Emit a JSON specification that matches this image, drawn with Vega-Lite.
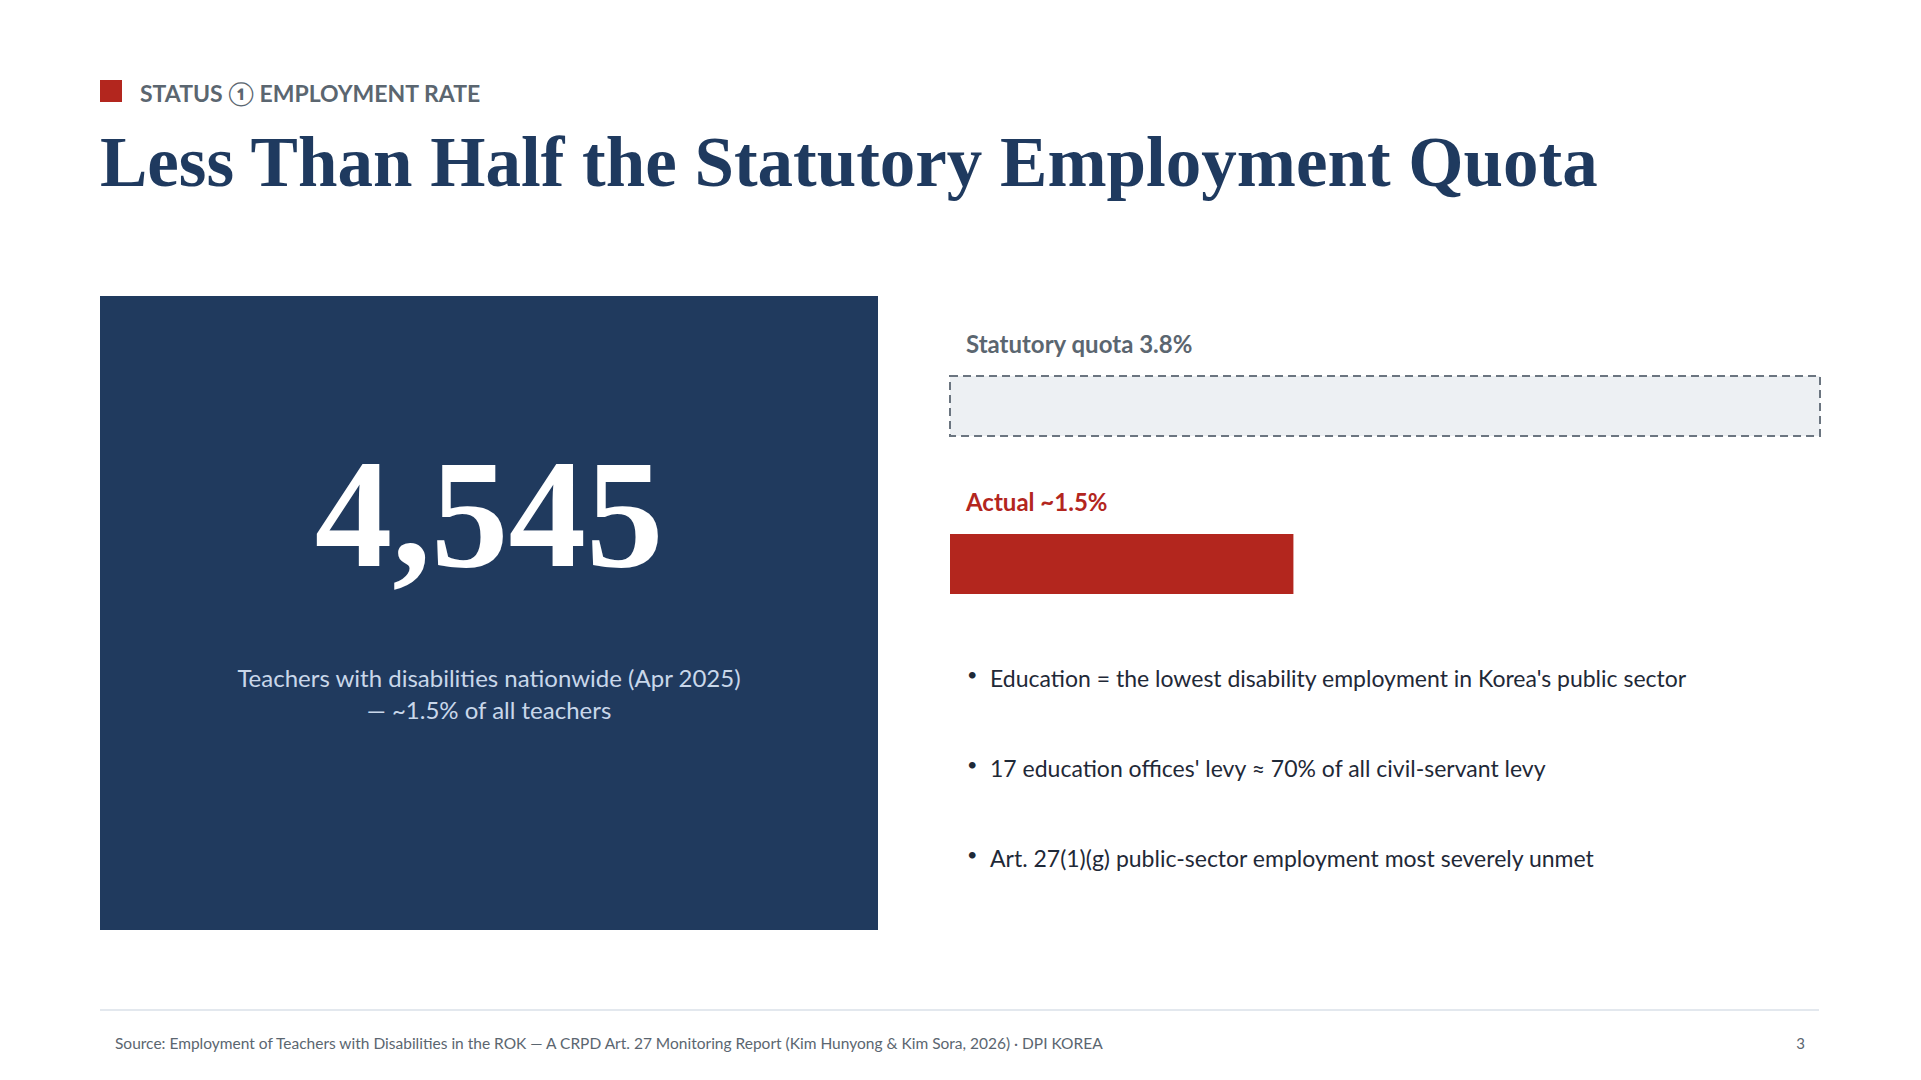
{
  "$schema": "https://vega.github.io/schema/vega-lite/v6.json",
  "background": "#ffffff",
  "padding": {"left": 100, "top": 80, "right": 0, "bottom": 0},
  "config": {"view": {"stroke": null}, "font": "Lato"},
  "datasets": {
    "section": [{"section": 1, "name": "STATUS ① EMPLOYMENT RATE"}],
    "headline": [{"teachers": 4545, "caption": "Teachers with disabilities nationwide (Apr 2025)\n— ~1.5% of all teachers"}],
    "rates": [
      {"measure": "Statutory quota", "label": "Statutory quota 3.8%", "rate": 3.8},
      {"measure": "Actual", "label": "Actual ~1.5%", "rate": 1.5}
    ],
    "points": [
      {"order": 1, "point": "Education = the lowest disability employment in Korea's public sector"},
      {"order": 2, "point": "17 education offices' levy ≈ 70% of all civil-servant levy"},
      {"order": 3, "point": "Art. 27(1)(g) public-sector employment most severely unmet"}
    ],
    "page": [{"page": 3}]
  },
  "spacing": 79,
  "vconcat": [
    {
      "spacing": 22,
      "vconcat": [
        {
          "width": 22,
          "height": 22,
          "data": {"name": "section"},
          "view": {"fill": "#b3261e", "stroke": null},
          "layer": [
            {"mark": {"type": "square", "size": 484, "color": "#b3261e", "opacity": 1}},
            {
              "mark": {"type": "text", "x": "width", "y": "height", "dx": 18, "align": "left", "baseline": "alphabetic", "font": "Lato", "fontSize": 23, "fontWeight": "bold", "color": "#5b6670"},
              "encoding": {"text": {"field": "name"}}
            }
          ]
        },
        {
          "title": {"text": "Less Than Half the Statutory Employment Quota", "anchor": "start", "font": "Liberation Serif", "fontSize": 71, "fontWeight": "bold", "color": "#1f3a5f", "baseline": "alphabetic", "offset": 39},
          "spacing": 71,
          "hconcat": [
            {
              "width": 778,
              "height": 634,
              "view": {"fill": "#203a5e", "stroke": null},
              "data": {"name": "headline"},
              "layer": [
                {
                  "mark": {"type": "text", "font": "Liberation Serif", "fontWeight": "bold", "fontSize": 155, "color": "#ffffff", "baseline": "alphabetic", "dy": -47},
                  "encoding": {"text": {"field": "teachers", "type": "quantitative", "format": ","}}
                },
                {
                  "mark": {"type": "text", "font": "Lato", "fontSize": 24, "color": "#c9d7ea", "baseline": "alphabetic", "lineBreak": "\n", "lineHeight": 32, "dy": 74},
                  "encoding": {"text": {"field": "caption"}}
                }
              ]
            },
            {
              "width": 870,
              "height": 634,
              "resolve": {"scale": {"y": "independent"}},
              "layer": [
                {
                  "data": {"name": "rates"},
                  "layer": [
                    {
                      "mark": {"type": "bar"},
                      "encoding": {
                        "y": {"field": "measure", "type": "nominal", "sort": null, "axis": null, "scale": {"range": [80, 298], "paddingInner": 0.62, "paddingOuter": 0}},
                        "x": {"field": "rate", "type": "quantitative", "axis": null, "scale": {"domain": [0, 3.8], "nice": false, "zero": true}},
                        "fill": {"condition": {"test": "datum.measure === 'Actual'", "value": "#b3261e"}, "value": "#edf0f3"},
                        "stroke": {"condition": {"test": "datum.measure === 'Actual'", "value": "#b3261e"}, "value": "#6b7580"},
                        "strokeWidth": {"condition": {"test": "datum.measure === 'Actual'", "value": 0}, "value": 2},
                        "strokeDash": {"condition": {"test": "datum.measure === 'Actual'", "value": [1, 0]}, "value": [8, 5]}
                      }
                    },
                    {
                      "mark": {"type": "text", "align": "left", "baseline": "alphabetic", "dx": 16, "dy": -23, "font": "Lato", "fontWeight": "bold", "fontSize": 24},
                      "encoding": {
                        "y": {"field": "measure", "type": "nominal", "sort": null, "axis": null, "bandPosition": 0, "scale": {"range": [80, 298], "paddingInner": 0.62, "paddingOuter": 0}},
                        "x": {"datum": 0, "type": "quantitative", "axis": null},
                        "text": {"field": "label"},
                        "color": {"condition": {"test": "datum.measure === 'Actual'", "value": "#b3261e"}, "value": "#5b6670"}
                      }
                    }
                  ]
                },
                {
                  "data": {"name": "points"},
                  "encoding": {
                    "y": {"field": "order", "type": "ordinal", "axis": null, "scale": {"type": "point", "range": [391, 571], "padding": 0}},
                    "x": {"datum": 0, "type": "quantitative", "axis": null}
                  },
                  "layer": [
                    {"mark": {"type": "text", "text": "•", "align": "left", "baseline": "alphabetic", "dx": 17, "dy": -6, "font": "Lato", "fontSize": 18, "color": "#1f2937"}},
                    {
                      "mark": {"type": "text", "align": "left", "baseline": "alphabetic", "dx": 40, "font": "Lato", "fontSize": 23, "color": "#1f2937"},
                      "encoding": {"text": {"field": "point"}}
                    }
                  ]
                }
              ]
            }
          ]
        }
      ]
    },
    {
      "width": 1719,
      "height": 2,
      "view": {"fill": "#e3e8ee", "stroke": null},
      "data": {"name": "page"},
      "mark": {"type": "text", "x": "width", "y": "height", "align": "right", "baseline": "alphabetic", "dx": -14, "dy": 38, "font": "Lato", "fontSize": 15, "color": "#5b6670"},
      "encoding": {"text": {"field": "page"}},
      "title": {"text": "Source: Employment of Teachers with Disabilities in the ROK — A CRPD Art. 27 Monitoring Report (Kim Hunyong & Kim Sora, 2026) · DPI KOREA", "orient": "bottom", "anchor": "start", "baseline": "alphabetic", "dx": 15, "offset": -3, "font": "Lato", "fontSize": 15.5, "fontWeight": "normal", "color": "#5b6670"}
    }
  ]
}
